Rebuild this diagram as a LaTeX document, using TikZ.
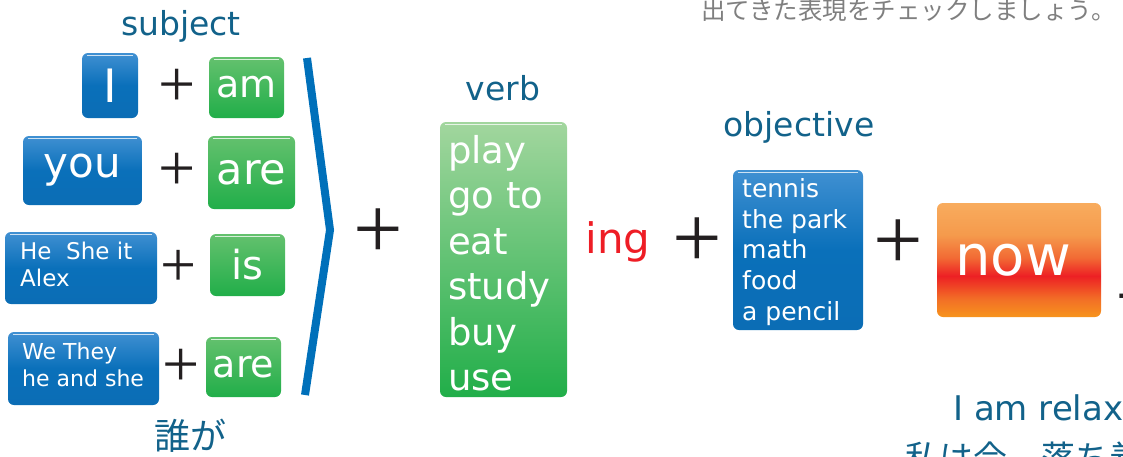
\documentclass[tikz,border=0pt]{standalone}
\usepackage{fontspec}
\setmainfont{DejaVu Sans}
\newfontfamily\cjk{Noto Sans CJK JP}
\newfontfamily\plusfont{Liberation Serif}
\definecolor{bluetop}{HTML}{4090D2}
\definecolor{bluemid}{HTML}{0A70BA}
\definecolor{bluebot}{HTML}{0B6DB5}
\definecolor{greentop}{HTML}{64C16E}
\definecolor{greenbot}{HTML}{21AE49}
\definecolor{verbtop}{HTML}{A2D69E}
\definecolor{headblue}{HTML}{12628A}
\definecolor{ingred}{HTML}{EE1D25}
\definecolor{nowtop}{HTML}{F8AC5E}
\definecolor{nowup}{HTML}{F59A4C}
\definecolor{nowmid}{HTML}{F26A34}
\definecolor{nowred}{HTML}{ED2024}
\definecolor{nowlow}{HTML}{F26E26}
\definecolor{nowbot}{HTML}{F7941D}
\definecolor{brack}{HTML}{0070BA}
\definecolor{plusink}{HTML}{231F20}
\definecolor{topgray}{HTML}{7F7F7F}
\pgfdeclareverticalshading{nowshade}{100bp}{color(0bp)=(nowbot); color(25bp)=(nowbot); color(33bp)=(nowlow); color(43bp)=(nowred); color(51bp)=(nowmid); color(61bp)=(nowup); color(75bp)=(nowtop); color(100bp)=(nowtop)}
\tikzset{
  wordbox/.style={rounded corners=6pt, inner sep=0pt, text=white},
  bluebox/.style={wordbox, top color=bluetop, bottom color=bluebot, middle color=bluemid},
  greenbox/.style={wordbox, top color=greentop, bottom color=greenbot},
  heading/.style={text=headblue, inner sep=0pt, font=\fontsize{33}{40}\selectfont},
  plussign/.style={text=plusink, inner sep=0pt, font=\plusfont\fontsize{#1}{#1}\selectfont},
  boxtext/.style={anchor=north west, align=left, inner sep=0pt, text=white},
  gloss/.style={white, line width=0.8pt, opacity=0.75},
}
\begin{document}
\begin{tikzpicture}[x=1pt,y=-1pt]
\useasboundingbox (0,0) rectangle (1123,456);
\clip (0,0) rectangle (1123,456);
% top gray text
\node[anchor=base west, inner sep=0pt, text=topgray, font=\cjk\fontsize{24.5}{28}\selectfont] (toptext) at (701,19) {出てきた表現をチェックしましょう。};
% headings
\node[heading, anchor=base] (hsubj) at (181,35) {subject};
\node[heading, anchor=base] (hverb) at (503,100) {verb};
\node[heading, anchor=base] (hobj) at (799,136) {objective};
\node[heading, font=\cjk\fontsize{36}{40}\selectfont] (hdare) at (190,436) {誰が};
% subject column
\node[bluebox, minimum width=56pt, minimum height=65pt, font=\fontsize{46}{50}\selectfont] (bI) at (110,85.5) {I};
\node[greenbox, minimum width=75pt, minimum height=61pt, font=\fontsize{38}{44}\selectfont] (bam) at (246.5,87.5) {am};
\node[bluebox, minimum width=119pt, minimum height=69pt, font=\fontsize{42}{48}\selectfont] (byou) at (82.5,170.5) {you};
\node[greenbox, minimum width=87pt, minimum height=73pt, font=\fontsize{43}{48}\selectfont] (bareA) at (251.5,172.5) {are};
\node[bluebox, minimum width=152pt, minimum height=72pt] (bhe) at (81,268) {};
\node[boxtext, font=\fontsize{23}{27}\selectfont] (the) at (20,242) {He~ She it\\Alex};
\node[greenbox, minimum width=75pt, minimum height=62pt, font=\fontsize{40}{46}\selectfont] (bis) at (247.5,265) {is};
\node[bluebox, minimum width=151pt, minimum height=73pt] (bwe) at (83.5,368.5) {};
\node[boxtext, font=\fontsize{22}{27}\selectfont] (twe) at (22,343) {We They\\he and she};
\node[greenbox, minimum width=75pt, minimum height=60pt, font=\fontsize{38}{44}\selectfont] (bareB) at (243.5,367) {are};
% pluses
\node[plussign=66] (p1) at (177,88) {+};
\node[plussign=66] (p2) at (177,172) {+};
\node[plussign=64] (p3) at (179,268) {+};
\node[plussign=66] (p4) at (181,368) {+};
\node[plussign=88] (p5) at (378.5,234) {+};
\node[plussign=88] (p6) at (697,243) {+};
\node[plussign=88] (p7) at (898.5,245) {+};
\node[plussign=88] (p8) at (1140,301) {+};
% bracket
\draw[brack, line width=8pt, miter limit=10] (307,58) -- (330,230) -- (305,395);
% verb box
\node[wordbox, top color=verbtop, bottom color=greenbot, minimum width=127pt, minimum height=275pt] (bverb) at (503.5,259.5) {};
\node[boxtext, font=\fontsize{37}{45.5}\selectfont] (tverb) at (448,135) {play\\go to\\eat\\study\\buy\\use};
% ing
\node[text=ingred, anchor=base, inner sep=0pt, font=\fontsize{42}{48}\selectfont] (ing) at (618,253) {ing};
% objective box
\node[bluebox, minimum width=130pt, minimum height=160pt] (bobj) at (798,250) {};
\node[boxtext, font=\fontsize{25}{30.8}\selectfont] (tobj) at (742,178) {tennis\\the park\\math\\food\\a pencil};
% now box
\node[wordbox, shading=nowshade, minimum width=164pt, minimum height=114pt, font=\fontsize{56}{60}\selectfont] (bnow) at (1019,260) {now\hspace*{12pt}};
% gloss lines
\foreach \b in {bI,bam,byou,bareA,bhe,bis,bwe,bareB,bverb,bobj}
  \draw[gloss] ([xshift=5pt,yshift=-2.5pt]\b.north west) -- ([xshift=-5pt,yshift=-2.5pt]\b.north east);
% bottom right texts
\node[anchor=base west, inner sep=0pt, text=headblue, font=\fontsize{34}{40}\selectfont] (relax) at (953,420) {I am relax};
\node[anchor=base west, inner sep=0pt, text=headblue, font=\cjk\fontsize{34}{40}\selectfont] (watashi) at (905,470) {私は今、落ち着};
\end{tikzpicture}
\end{document}
